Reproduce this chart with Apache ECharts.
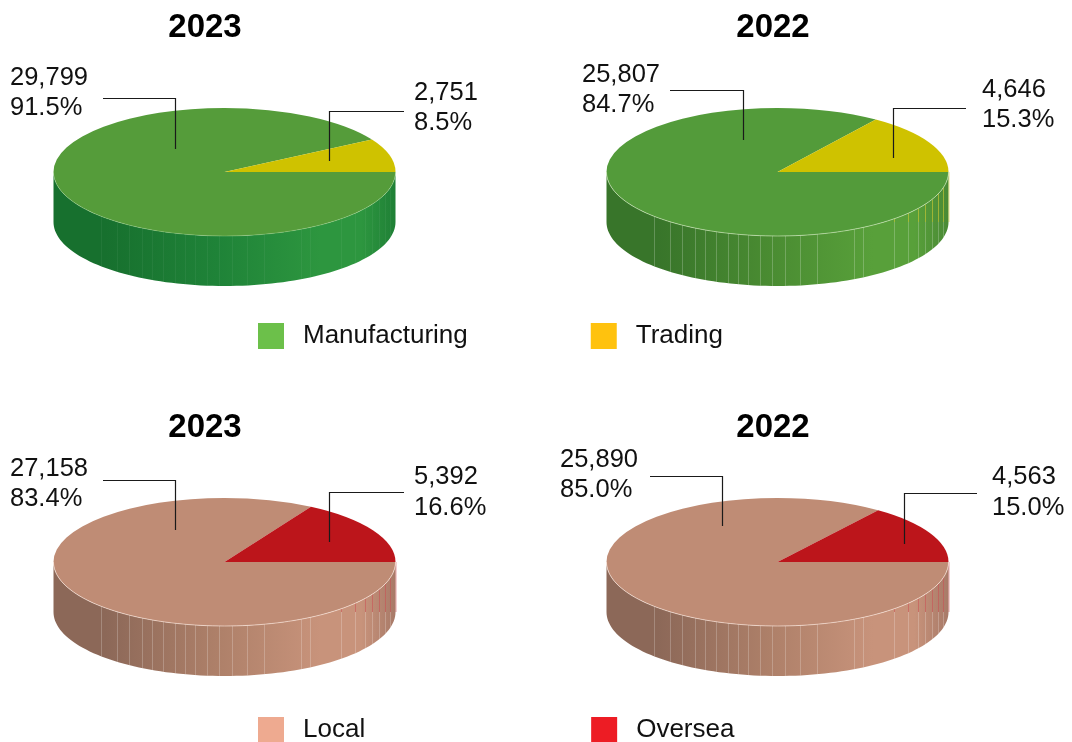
<!DOCTYPE html>
<html>
<head>
<meta charset="utf-8">
<style>html,body{margin:0;padding:0;background:#fff}#chart{width:1072px;height:742px}</style>
<script src="https://cdn.jsdelivr.net/npm/echarts@6/dist/echarts.min.js"></script>
</head>
<body>
<div id="chart"></div>
<script>
// Revenue split by business type and by market
const years = ['2023', '2022'];
const manufacturing = [29799, 25807];
const trading = [2751, 4646];
const local = [27158, 25890];
const oversea = [5392, 4563];
const manufacturingShare = ['91.5%', '84.7%'];
const tradingShare = ['8.5%', '15.3%'];
const localShare = ['83.4%', '85.0%'];
const overseaShare = ['16.6%', '15.0%'];

// Drum geometry shared by the four pies
const RX = 171, RY = 64, DEPTH = 50;
const CENTRES = [[224.5, 172], [777.5, 172], [224.5, 562], [777.5, 562]];
const TITLE_X = [205, 773, 205, 773];
const TITLE_Y = [27.5, 27.5, 427.5, 427.5];

// Wall seams, degrees either side of the front of the drum
const SEAMS = [-46, -39, -34, -29, -25, -21, -17, -13.5, -10, -6, -2, 2.6, 7.5, 13.4, 26.4, 30, 43, 50, 55, 59.5, 64.5, 70, 76];

const STYLES = [
  { top: '#559c3a', accent: '#cfc200', rim: 'rgba(170,220,150,0.35)', seam: 0.05, tint: 'rgba(40,130,60,0.0)',
    wall: ['#17702e', '#17702e', '#1f8338', '#2d963f', '#2d963f', '#1f8036'] },
  { top: '#539b3a', accent: '#cfc200', rim: 'rgba(210,235,190,0.6)', seam: 0.22, tint: 'rgba(207,194,0,0.45)',
    wall: ['#38752a', '#38752a', '#4a8c32', '#58a03a', '#58a03a', '#4a8a35'] },
  { top: '#bf8c75', accent: '#bc151b', rim: 'rgba(255,235,225,0.6)', seam: 0.22, tint: 'rgba(188,21,27,0.4)',
    wall: ['#8c6858', '#8c6858', '#ae8069', '#c8937b', '#c8937b', '#a87a68'] },
  { top: '#bf8c75', accent: '#bc151b', rim: 'rgba(255,235,225,0.6)', seam: 0.22, tint: 'rgba(188,21,27,0.4)',
    wall: ['#8c6858', '#8c6858', '#ae8069', '#c8937b', '#c8937b', '#a87a68'] }
];

// Leader elbows and the two text lines beside them
const MAIN_LEADERS = [
  { path: [[103, 98.5], [175.5, 98.5], [175.5, 149]], x: 10, y: [77.5, 107.5] },
  { path: [[670, 90.5], [743.5, 90.5], [743.5, 140]], x: 582, y: [74.5, 104.5] },
  { path: [[103, 480.5], [175.5, 480.5], [175.5, 530]], x: 10, y: [468.5, 498.5] },
  { path: [[650, 476.5], [722.5, 476.5], [722.5, 526]], x: 560, y: [459.5, 489.5] }
];
const SIDE_LEADERS = [
  { path: [[404, 111.5], [329.5, 111.5], [329.5, 161]], x: 414, y: [92.5, 122.5] },
  { path: [[966, 108.5], [893.5, 108.5], [893.5, 158]], x: 982, y: [89.5, 119.5] },
  { path: [[404, 492.5], [329.5, 492.5], [329.5, 542]], x: 414, y: [477, 508] },
  { path: [[977, 493.5], [904.5, 493.5], [904.5, 544]], x: 992, y: [477, 508] }
];

const FONT = '"Liberation Sans", Arial, sans-serif';
const fmt = v => v.toLocaleString('en-US');

function drumWall(panel) {
  const [cx, cy] = CENTRES[panel];
  const st = STYLES[panel];
  const front = [], back = [];
  for (let d = 0; d <= 180; d += 2) {
    const t = d * Math.PI / 180;
    front.push([cx + RX * Math.cos(t), cy + RY * Math.sin(t)]);
    back.unshift([cx + RX * Math.cos(t), cy + RY * Math.sin(t) + DEPTH]);
  }
  const stops = [0, 0.15, 0.48, 0.78, 0.9, 1];
  const out = [{
    type: 'polygon',
    shape: { points: front.concat(back) },
    style: {
      fill: new echarts.graphic.LinearGradient(0, 0, 1, 0,
        st.wall.map((color, i) => ({ offset: stops[i], color })))
    }
  }];
  SEAMS.forEach(deg => {
    const p = deg * Math.PI / 180;
    const x = Math.round(cx + RX * Math.sin(p)) + 0.5;
    const yTop = cy + RY * Math.cos(p);
    out.push({
      type: 'line',
      shape: { x1: x, y1: yTop, x2: x, y2: yTop + DEPTH },
      style: { stroke: 'rgba(255,255,255,' + st.seam + ')', lineWidth: 1 }
    });
    // Far-side wall colour showing along the right-hand seams
    if (deg >= 43 && yTop < cy + DEPTH) {
      out.push({
        type: 'line',
        shape: { x1: x, y1: yTop, x2: x, y2: cy + DEPTH },
        style: { stroke: st.tint, lineWidth: 1 }
      });
    }
  });
  out.push({
    type: 'line',
    shape: { x1: cx + RX + 0.5, y1: cy, x2: cx + RX + 0.5, y2: cy + DEPTH },
    style: { stroke: st.tint, lineWidth: 1 }
  });
  return out;
}

function rimArc(panel) {
  const [cx, cy] = CENTRES[panel];
  const pts = [];
  for (let d = 0; d <= 180; d += 2) {
    const t = d * Math.PI / 180;
    pts.push([cx + RX * Math.cos(t), cy + RY * Math.sin(t)]);
  }
  return {
    type: 'polyline',
    shape: { points: pts },
    style: { stroke: STYLES[panel].rim, lineWidth: 1, fill: null }
  };
}

function callout(leader, valueText, shareText) {
  const text = (t, y) => ({
    type: 'text', x: leader.x, y,
    style: { text: t, font: '25.5px ' + FONT, fill: '#111', align: 'left', verticalAlign: 'middle' }
  });
  return [
    { type: 'polyline', shape: { points: leader.path }, style: { stroke: '#1a1a1a', lineWidth: 1.2, fill: null } },
    text(valueText, leader.y[0]),
    text(shareText, leader.y[1])
  ];
}

// One elliptical slice: a true sector squashed by its parent group
function slice(panel, startAngle, endAngle, fill) {
  const [cx, cy] = CENTRES[panel];
  return {
    type: 'group', x: cx, y: cy, scaleY: RY / RX,
    children: [{
      type: 'sector',
      shape: { cx: 0, cy: 0, r: RX, r0: 0, startAngle, endAngle, clockwise: true },
      style: { fill }
    }]
  };
}

function mainRender(params, api) {
  const panel = api.value(0), value = api.value(1), other = api.value(2);
  const sweep = other / (value + other) * Math.PI * 2;
  const share = params.seriesName === 'Manufacturing' ? manufacturingShare : localShare;
  const st = STYLES[panel];
  return {
    type: 'group',
    children: drumWall(panel)
      .concat([slice(panel, 0, Math.PI * 2 - sweep, st.top), rimArc(panel)])
      .concat(callout(MAIN_LEADERS[panel], fmt(value), share[panel % 2]))
  };
}

function sideRender(params, api) {
  const panel = api.value(0), value = api.value(1), other = api.value(2);
  const sweep = value / (value + other) * Math.PI * 2;
  const share = params.seriesName === 'Trading' ? tradingShare : overseaShare;
  return {
    type: 'group',
    children: [slice(panel, -sweep, 0, STYLES[panel].accent)]
      .concat(callout(SIDE_LEADERS[panel], fmt(value), share[panel % 2]))
  };
}

const rows = (base, a, b) => years.map((_, i) => [base + i, a[i], b[i]]);
const customSeries = (name, renderItem, data) => ({
  name, type: 'custom', coordinateSystem: 'none', renderItem, data, silent: true, clip: false, animation: false
});

const legendBase = {
  left: 258, padding: 0, itemWidth: 26, itemHeight: 26, itemGap: 123, selectedMode: false, icon: 'rect',
  textStyle: { fontFamily: FONT, fontSize: 26, color: '#111', padding: [0, 0, 0, 14] }
};

const option = {
  backgroundColor: '#fff',
  animation: false,
  title: CENTRES.map((_, i) => ({
    text: years[i % 2], left: TITLE_X[i], top: TITLE_Y[i], padding: 0, textAlign: 'center', textVerticalAlign: 'middle',
    textStyle: { fontFamily: FONT, fontWeight: 'bold', fontSize: 33, color: '#000' }
  })),
  legend: [
    Object.assign({}, legendBase, { top: 323, data: [
      { name: 'Manufacturing', itemStyle: { color: '#6cc04a' } },
      { name: 'Trading', itemStyle: { color: '#ffc20e' } }
    ] }),
    Object.assign({}, legendBase, { top: 717, itemGap: 226, data: [
      { name: 'Local', itemStyle: { color: '#eeaa90' } },
      { name: 'Oversea', itemStyle: { color: '#ed1c24' } }
    ] })
  ],
  series: [
    customSeries('Manufacturing', mainRender, rows(0, manufacturing, trading)),
    customSeries('Trading', sideRender, rows(0, trading, manufacturing)),
    customSeries('Local', mainRender, rows(2, local, oversea)),
    customSeries('Oversea', sideRender, rows(2, oversea, local))
  ]
};

const chart = echarts.init(document.getElementById('chart'), null, { renderer: 'canvas' });
chart.setOption(option);
</script>
</body>
</html>
